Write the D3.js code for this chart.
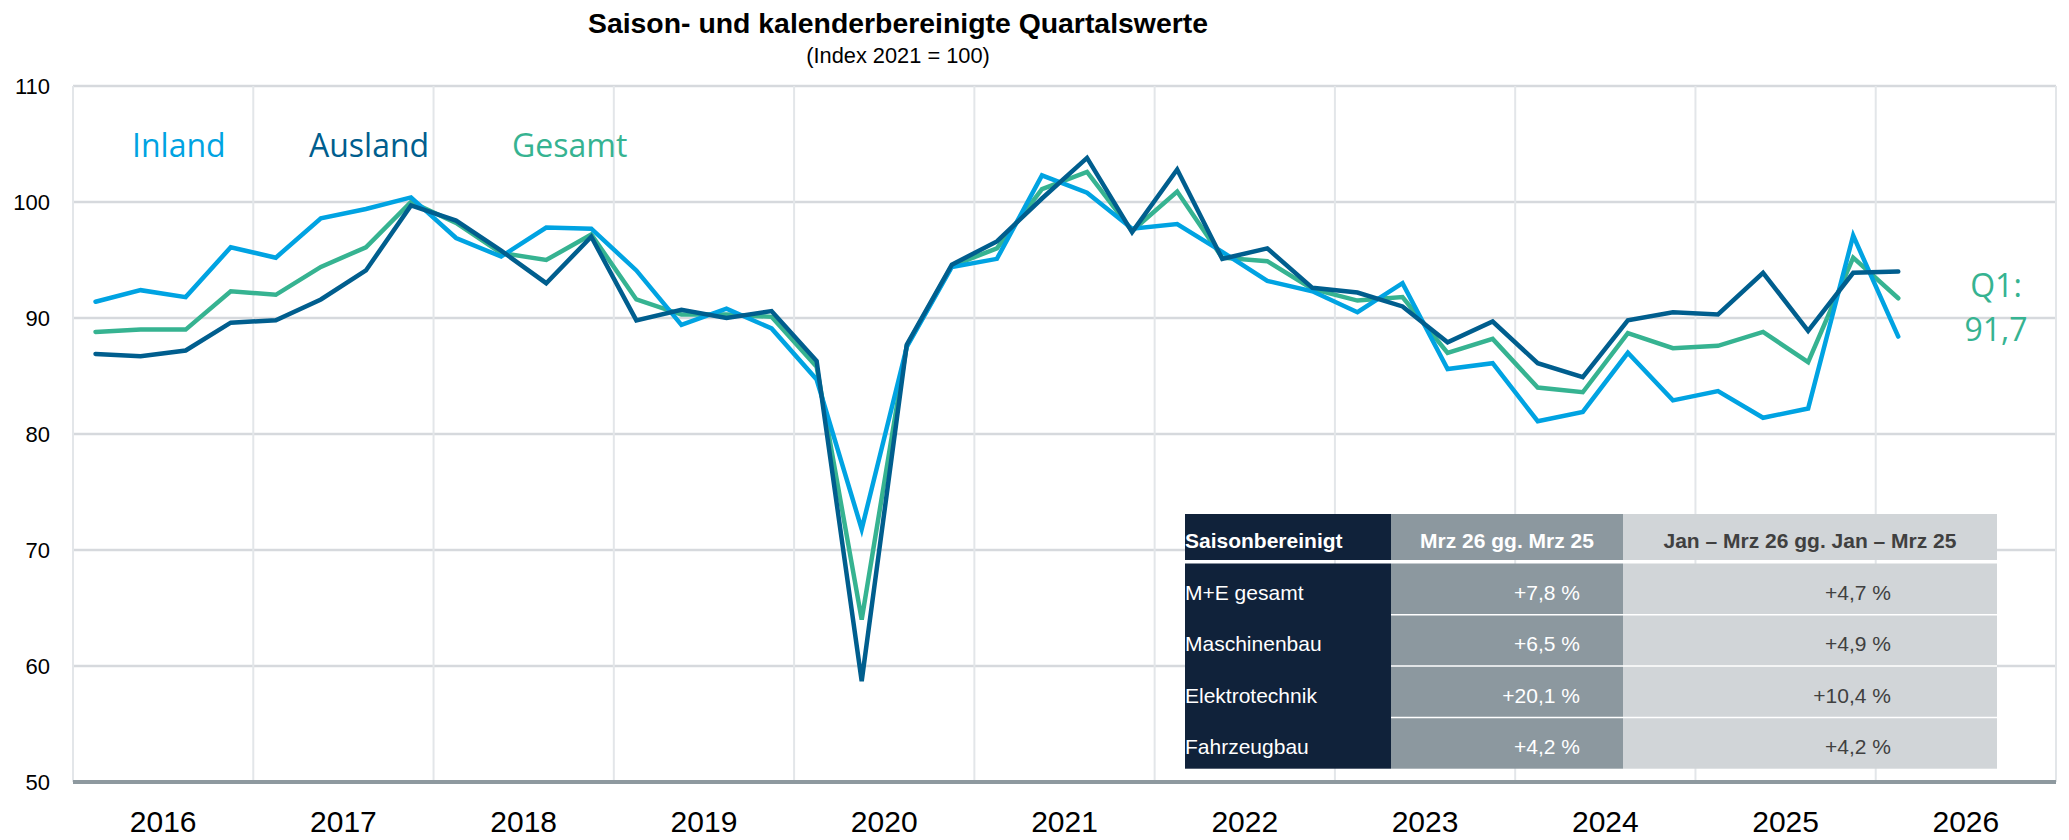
<!DOCTYPE html>
<html>
<head>
<meta charset="utf-8">
<script src="https://cdn.jsdelivr.net/npm/d3@7"></script>
<style>
  body { margin: 0; background: #fff; }
  svg { display: block; }
</style>
</head>
<body>
<div id="chart"></div>
<script>
// values (index 2021 = 100), 2016 Q1 .. 2026 Q1
var years = [2016, 2017, 2018, 2019, 2020, 2021, 2022, 2023, 2024, 2025, 2026];
var quarters = [];
years.forEach(function(y) {
  for (var q = 1; q <= 4; q++) quarters.push(y + "Q" + q);
});

var inland = [91.4, 92.4, 91.8, 96.1, 95.2, 98.6, 99.4, 100.4, 96.9, 95.3, 97.8,
  97.7, 94.1, 89.4, 90.8, 89.1, 84.7, 71.8, 87.5, 94.4, 95.1, 102.3, 100.8, 97.7,
  98.1, 95.7, 93.2, 92.3, 90.5, 93.0, 85.6, 86.1, 81.1, 81.9, 87.0, 82.9, 83.7,
  81.4, 82.2, 97.1, 88.4];
var ausland = [86.9, 86.7, 87.2, 89.6, 89.8, 91.6, 94.1, 99.7, 98.4, 95.8, 93.0,
  97.0, 89.8, 90.7, 90.0, 90.6, 86.3, 58.7, 87.7, 94.6, 96.6, 100.3, 103.8, 97.4,
  102.8, 95.1, 96.0, 92.6, 92.2, 91.0, 87.9, 89.7, 86.1, 84.9, 89.8, 90.5, 90.3,
  93.9, 88.9, 93.9, 94.0];
var gesamt = [88.8, 89.0, 89.0, 92.3, 92.0, 94.4, 96.1, 100.0, 98.2, 95.6, 95.0,
  97.2, 91.6, 90.3, 90.3, 90.1, 85.8, 64.0, 87.6, 94.5, 96.0, 101.1, 102.6, 97.5,
  100.9, 95.2, 94.9, 92.5, 91.5, 91.8, 87.0, 88.2, 84.0, 83.6, 88.7, 87.4, 87.6,
  88.8, 86.2, 95.2, 91.7];

var yTicks = [50, 60, 70, 80, 90, 100, 110];

var tableHeader = ["Saisonbereinigt", "Mrz 26 gg. Mrz 25", "Jan \u2013 Mrz 26 gg. Jan \u2013 Mrz 25"];
var tableLabels = ["M+E gesamt", "Maschinenbau", "Elektrotechnik", "Fahrzeugbau"];
var tableMonth = ["+7,8 %", "+6,5 %", "+20,1 %", "+4,2 %"];
var tableQuarter = ["+4,7 %", "+4,9 %", "+10,4 %", "+4,2 %"];

var width = 2069;
var height = 840;
var plotLeft = 73, plotRight = 2056, plotTop = 86, plotBottom = 782;
var txtFont = "'Liberation Sans', Arial, sans-serif";

var svg = d3.select("#chart")
  .append("svg")
  .attr("width", width)
  .attr("height", height);

var x = d3.scaleBand().domain(quarters).range([plotLeft, plotRight]);
var xYear = d3.scaleBand().domain(years).range([plotLeft, plotRight]);
var y = d3.scaleLinear().domain([50, 110]).range([plotBottom, plotTop]);

// title
svg.append("text")
  .attr("x", 898).attr("y", 33)
  .attr("text-anchor", "middle")
  .style("font-family", txtFont)
  .style("font-weight", "bold")
  .style("font-size", "28.4px")
  .text("Saison- und kalenderbereinigte Quartalswerte");
svg.append("text")
  .attr("x", 898).attr("y", 63)
  .attr("text-anchor", "middle")
  .style("font-family", txtFont)
  .style("font-size", "21.8px")
  .text("(Index 2021 = 100)");

// grid
svg.append("g").selectAll("line")
  .data(yTicks.slice(1))
  .enter().append("line")
  .attr("x1", plotLeft).attr("x2", plotRight)
  .attr("y1", function(d) { return y(d); })
  .attr("y2", function(d) { return y(d); })
  .attr("stroke", "#d6d9dd")
  .attr("stroke-width", 2.5);

var yearEdges = years.map(function(d) { return xYear(d); }).concat([plotRight]);
svg.append("g").selectAll("line")
  .data(yearEdges)
  .enter().append("line")
  .attr("x1", function(d) { return d; })
  .attr("x2", function(d) { return d; })
  .attr("y1", plotTop).attr("y2", plotBottom)
  .attr("stroke", "#e3e6e9")
  .attr("stroke-width", 2);

// axes
var yAxis = svg.append("g")
  .attr("transform", "translate(" + plotLeft + ",0)")
  .call(d3.axisLeft(y).tickValues(yTicks).tickSize(0).tickPadding(23));
yAxis.select(".domain").remove();
yAxis.selectAll("text")
  .style("font-family", txtFont)
  .style("font-size", "22px")
  .attr("fill", "#000");

var xAxis = svg.append("g")
  .attr("transform", "translate(0," + plotBottom + ")")
  .call(d3.axisBottom(xYear).tickSize(0).tickPadding(50));
xAxis.select(".domain").remove();
xAxis.selectAll("text")
  .attr("dy", 0)
  .style("font-family", txtFont)
  .style("font-size", "30px")
  .attr("fill", "#000");

svg.append("line")
  .attr("x1", plotLeft).attr("x2", plotRight)
  .attr("y1", plotBottom).attr("y2", plotBottom)
  .attr("stroke", "#8e999f")
  .attr("stroke-width", 4);

// lines
var line = d3.line()
  .x(function(d, i) { return x(quarters[i]) + x.bandwidth() / 2; })
  .y(function(d) { return y(d); });

var series = [
  { name: "Gesamt", values: gesamt, color: "#36b391" },
  { name: "Inland", values: inland, color: "#00a3e2" },
  { name: "Ausland", values: ausland, color: "#005e8e" }
];

series.forEach(function(s) {
  svg.append("path")
    .datum(s.values)
    .attr("d", line)
    .attr("fill", "none")
    .attr("stroke", s.color)
    .attr("stroke-width", 4.5)
    .attr("stroke-linejoin", "miter")
    .attr("stroke-linecap", "round");
});

// legend labels
var legend = [
  { name: "Inland", x: 132, color: "#00a3e2" },
  { name: "Ausland", x: 309, color: "#005e8e" },
  { name: "Gesamt", x: 512, color: "#36b391" }
];
svg.selectAll(".legend")
  .data(legend)
  .enter().append("text")
  .attr("class", "legend")
  .attr("x", function(d) { return d.x; })
  .attr("y", 157)
  .attr("fill", function(d) { return d.color; })
  .style("font-family", "'Open Sans', sans-serif")
  .style("font-size", "32px")
  .text(function(d) { return d.name; });

// last value label
svg.append("text")
  .attr("x", 1996).attr("y", 297)
  .attr("text-anchor", "middle")
  .attr("fill", "#36b391")
  .style("font-family", "'Open Sans', sans-serif")
  .style("font-size", "32px")
  .text("Q1:");
svg.append("text")
  .attr("x", 1996).attr("y", 341)
  .attr("text-anchor", "middle")
  .attr("fill", "#36b391")
  .style("font-family", "'Open Sans', sans-serif")
  .style("font-size", "32px")
  .text("91,7");

// table
var tx = [1185, 1391, 1623, 1997];
var headTop = 514, headBottom = 560, rowTop = 563.5, rowH = 51.3;
var colFill = ["#10223a", "#8c989f", "#d1d5d8"];

var table = svg.append("g");
for (var c = 0; c < 3; c++) {
  table.append("rect")
    .attr("x", tx[c]).attr("y", headTop)
    .attr("width", tx[c + 1] - tx[c]).attr("height", headBottom - headTop)
    .attr("fill", colFill[c]);
  table.append("rect")
    .attr("x", tx[c]).attr("y", rowTop)
    .attr("width", tx[c + 1] - tx[c]).attr("height", rowH * 4)
    .attr("fill", colFill[c]);
}
for (var r = 1; r < 4; r++) {
  table.append("line")
    .attr("x1", tx[1]).attr("x2", tx[3])
    .attr("y1", rowTop + r * rowH).attr("y2", rowTop + r * rowH)
    .attr("stroke", "#fff")
    .attr("stroke-width", 1.5);
}

table.append("text")
  .attr("x", tx[0]).attr("y", 548)
  .attr("fill", "#fff")
  .style("font-family", txtFont).style("font-weight", "bold").style("font-size", "21px")
  .text(tableHeader[0]);
table.append("text")
  .attr("x", (tx[1] + tx[2]) / 2).attr("y", 548)
  .attr("text-anchor", "middle")
  .attr("fill", "#fff")
  .style("font-family", txtFont).style("font-weight", "bold").style("font-size", "21px")
  .text(tableHeader[1]);
table.append("text")
  .attr("x", (tx[2] + tx[3]) / 2).attr("y", 548)
  .attr("text-anchor", "middle")
  .attr("fill", "#404040")
  .style("font-family", txtFont).style("font-weight", "bold").style("font-size", "21px")
  .text(tableHeader[2]);

tableLabels.forEach(function(label, i) {
  var by = rowTop + i * rowH + 36.5;
  table.append("text")
    .attr("x", tx[0]).attr("y", by)
    .attr("fill", "#fff")
    .style("font-family", txtFont).style("font-size", "21px")
    .text(label);
  table.append("text")
    .attr("x", 1580).attr("y", by)
    .attr("text-anchor", "end")
    .attr("fill", "#fff")
    .style("font-family", txtFont).style("font-size", "21px")
    .text(tableMonth[i]);
  table.append("text")
    .attr("x", 1891).attr("y", by)
    .attr("text-anchor", "end")
    .attr("fill", "#404040")
    .style("font-family", txtFont).style("font-size", "21px")
    .text(tableQuarter[i]);
});
</script>
</body>
</html>
